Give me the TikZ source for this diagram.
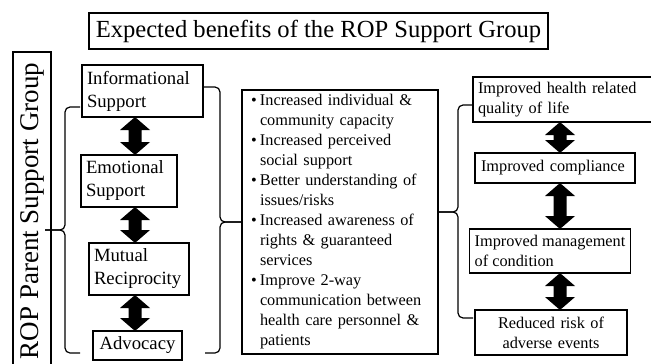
\documentclass[tikz,border=0pt]{standalone}
\usepackage{fontspec}
\setmainfont{Liberation Serif}
\usetikzlibrary{calc}
\newcommand\blockarrow[2]{%
  \fill let \p1=(#1), \p2=(#2) in
    (\x1,\y1) -- (\x1+15pt,\y1-13pt) -- (\x1+6.5pt,\y1-13pt) -- (\x1+6.5pt,\y2+13pt)
    -- (\x1+15pt,\y2+13pt) -- (\x1,\y2) -- (\x1-15pt,\y2+13pt) -- (\x1-6.5pt,\y2+13pt)
    -- (\x1-6.5pt,\y1-13pt) -- (\x1-15pt,\y1-13pt) -- cycle;}
\newcommand\bul{\makebox[9pt][l]{\textbullet}}
\newcommand\ind{\hspace*{9pt}}
\begin{document}
\begin{tikzpicture}[x=1pt,y=-1pt,
  every node/.style={inner sep=0pt, outer sep=0pt},
  box/.style={draw, line width=1.2pt, inner xsep=5pt, inner ysep=0pt},
  lfont/.style={font=\fontsize{18.7}{23}\selectfont},
  sfont/.style={font=\fontsize{16.3}{20}\selectfont},
  brace/.style={line width=1.2pt, rounded corners=5pt}]
\useasboundingbox[fill=white] (0,0) rectangle (651,364);
\clip (0,0) rectangle (651,364);

\node[box, font=\fontsize{24.6}{28}\selectfont, minimum width=459pt, minimum height=36pt] (title) at (318.5,31) {Expected benefits of the ROP Support Group};

\node[box, rotate=90, font=\fontsize{27}{30}\selectfont, minimum width=318pt, minimum height=38pt] (rop) at (32,211) {ROP Parent Support Group};

% left column
\node[box, lfont, align=left, text width=111pt, minimum height=52pt] (info) at (142.5,91) {Informational\\Support};
\node[box, lfont, align=left, text width=86pt, minimum height=52pt] (emo) at (129,181) {Emotional\\Support};
\node[box, lfont, align=left, text width=90pt, minimum height=52pt] (mut) at (139,269) {Mutual\\Reciprocity};
\node[box, lfont, align=center, text width=79pt, minimum height=29pt] (adv) at (137.5,345.5) {Advocacy};

% middle
\node[box, sfont, align=left, text width=178pt, inner xsep=9pt, minimum height=264pt] (mid) at (340,222) {%
\bul Increased individual \&\\
\ind community capacity\\
\bul Increased perceived\\
\ind social support\\
\bul Better understanding of\\
\ind issues/risks\\
\bul Increased awareness of\\
\ind rights \& guaranteed\\
\ind services\\
\bul Improve 2-way\\
\ind communication between\\
\ind health care personnel \&\\
\ind patients};

% right column
\node[box, sfont, align=left, text width=180pt, minimum height=45pt] (r1) at (568,99.5) {Improved health related\\quality of life};
\node[box, sfont, align=left, text width=148pt, inner xsep=6pt, minimum height=30pt] (r2) at (555,168) {Improved compliance};
\node[box, sfont, align=left, minimum width=154pt, minimum height=44pt] (r3) at (550,251) {Improved management\\of condition};
\node[box, sfont, align=center, text width=142pt, minimum height=45pt] (r4) at (551,332.5) {Reduced risk of\\adverse events};

% block arrows
\coordinate (cl) at (135,0);
\coordinate (cr) at (560,0);
\blockarrow{cl |- info.south}{cl |- emo.north}
\blockarrow{cl |- emo.south}{cl |- mut.north}
\blockarrow{cl |- mut.south}{cl |- adv.north}
\blockarrow{cr |- r1.south}{cr |- r2.north}
\blockarrow{cr |- r2.south}{cr |- r3.north}
\blockarrow{cr |- r3.south}{cr |- r4.north}

% braces
\coordinate (lbT) at (80,107);
\coordinate (lbB) at (80,353);
\coordinate (lbM) at (65,230);
\coordinate (lbTip) at (45,230);
\draw[brace] (lbT) -| (lbM) -- (lbTip);
\draw[brace] (lbTip) -- (lbM) |- (lbB);

\coordinate (mbT) at (204,87);
\coordinate (mbB) at (205,353);
\coordinate (mbM) at (220,222);
\draw[brace] (mbT) -| (mbM) -- (mid.west);
\draw[brace] (mid.west) -- (mbM) |- (mbB);

\coordinate (rbT) at (473,105);
\coordinate (rbB) at (473,318);
\coordinate (rbM) at (458,212);
\coordinate (rbTip) at (mid.east |- rbM);
\draw[brace] (rbT) -| (rbM) -- (rbTip);
\draw[brace] (rbTip) -- (rbM) |- (rbB);
\end{tikzpicture}
\end{document}
